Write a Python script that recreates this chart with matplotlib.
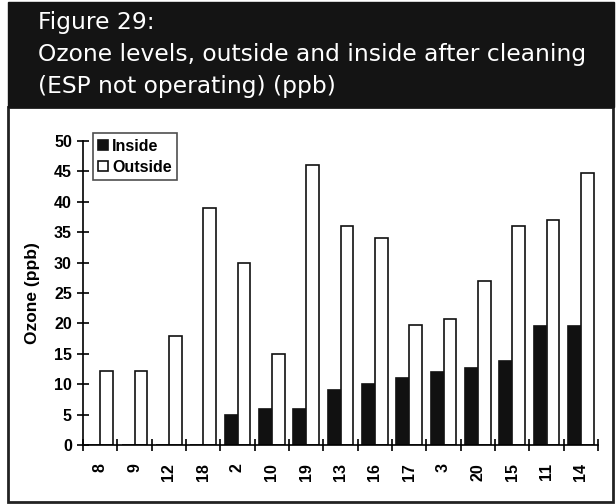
import numpy as np
import matplotlib.pyplot as plt
from matplotlib.patches import Rectangle

plt.rcParams['font.family'] = ['Liberation Sans', 'DejaVu Sans']

# Данные
sites = ['8', '9', '12', '18', '2', '10', '19', '13', '16', '17', '3', '20', '15', '11', '14']
inside = [0, 0, 0, 0, 5, 6, 6, 9, 10, 11, 12, 12.7, 13.8, 19.6, 19.6]
outside = [12.1, 12.1, 18, 39, 30, 15, 46, 36, 34, 19.8, 20.7, 27, 36, 37, 44.8]

W, H = 616, 504
fig = plt.figure(figsize=(W / 100, H / 100), dpi=100)

# Рамки: чёрная шапка и нижняя панель
fig.patches.append(Rectangle((8 / W, 1 - 502 / H), 605 / W, 395 / H,
                             transform=fig.transFigure, facecolor='white',
                             edgecolor='#222222', linewidth=2, zorder=-5))
fig.patches.append(Rectangle((8 / W, 1 - 107 / H), 606 / W, 105 / H,
                             transform=fig.transFigure, facecolor='#141414',
                             edgecolor='#141414', zorder=-4))

title_kw = dict(color='white', fontsize=16.8, va='center', ha='left',
                family=['DejaVu Sans'])
fig.text(38 / W, 1 - 22 / H, 'Figure 29:', **title_kw)
fig.text(38 / W, 1 - 55 / H, 'Ozone levels, outside and inside after cleaning',
         **title_kw)
fig.text(38 / W, 1 - 86 / H, '(ESP not operating) (ppb)', **title_kw)

ax = fig.add_axes([83 / W, 1 - 445 / H, 515 / W, 304 / H])
ax.set_zorder(1)
x = np.arange(len(sites))
bw = 0.37
ax.bar(x - bw / 2, inside, bw, color='#111111', edgecolor='#111111',
       linewidth=1.2, label='Inside')
ax.bar(x + bw / 2, outside, bw, color='white', edgecolor='#111111',
       linewidth=1.2, label='Outside')

ax.set_xlim(-0.5, len(sites) - 0.5)
ax.set_ylim(0, 50)
ax.set_yticks(range(0, 51, 5))
ax.set_xticks(x)
ax.set_xticklabels(sites, rotation=90, fontsize=11.5, fontweight='bold')
ax.set_xticks(np.arange(-0.5, len(sites)), minor=True)
ax.tick_params(axis='x', which='major', length=0, pad=13)
ax.tick_params(axis='x', which='minor', length=8, direction='inout', width=1.2)
ax.tick_params(axis='y', length=8, direction='inout', width=1.2,
               labelsize=11.5, pad=4)
for lbl in ax.get_yticklabels():
    lbl.set_fontweight('bold')
ax.spines['top'].set_visible(False)
ax.spines['right'].set_visible(False)
ax.spines['left'].set_linewidth(1.2)
ax.spines['bottom'].set_linewidth(1.2)
ax.set_ylabel('Ozone (ppb)', fontsize=12.5, fontweight='bold', labelpad=10)

leg = ax.legend(loc='upper left', bbox_to_anchor=(0.019, 1.025), frameon=True,
                fancybox=False, edgecolor='#222222', fontsize=11.5,
                handlelength=0.6, handleheight=0.6, handletextpad=0.25,
                borderpad=0.35, labelspacing=0.35, borderaxespad=0)
for t in leg.get_texts():
    t.set_fontweight('bold')
leg.get_frame().set_linewidth(1.2)

fig.savefig('out.png', dpi=100)
